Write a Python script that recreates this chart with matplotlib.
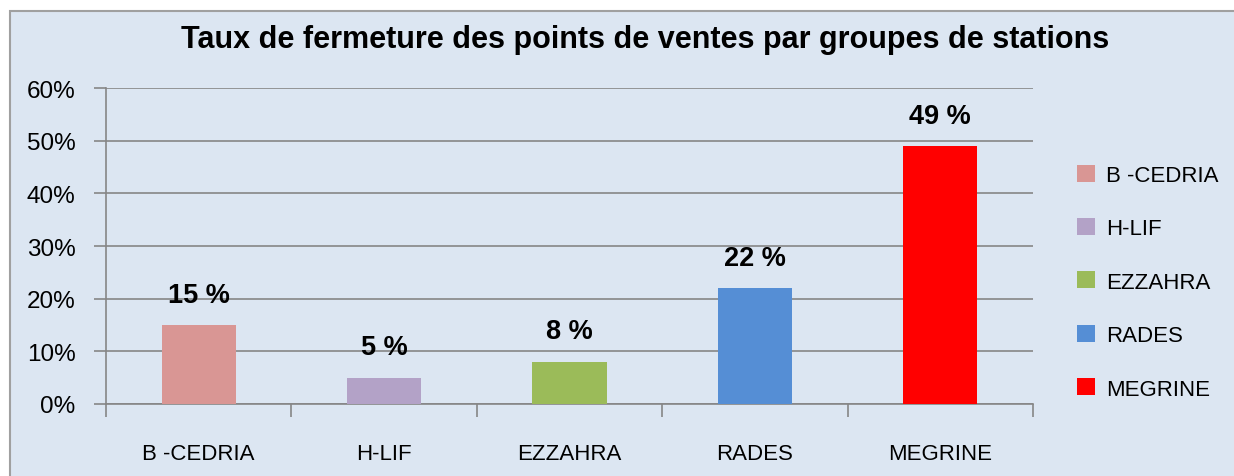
import matplotlib
matplotlib.use("Agg")
import matplotlib.pyplot as plt
from matplotlib.patches import Rectangle, Patch
from matplotlib.ticker import FuncFormatter, FixedLocator

categories = ["B -CEDRIA", "H-LIF", "EZZAHRA", "RADES", "MEGRINE"]
values = [15, 5, 8, 22, 49]
labels = ["15 %", "5 %", "8 %", "22 %", "49 %"]
colors = ["#D99694", "#B3A2C7", "#9BBB59", "#558ED5", "#FF0000"]
yticks = [0, 10, 20, 30, 40, 50, 60]

plt.rcParams['font.family'] = ['Liberation Sans Narrow', 'Liberation Sans', 'DejaVu Sans']

W, H = 1234, 477
fig = plt.figure(figsize=(W/100, H/100), dpi=100)
fig.patch.set_facecolor("white")
bg = "#DCE6F2"
fig.patches.append(Rectangle((10/W, -0.05), 1.2, (H-12)/H + 0.05, transform=fig.transFigure,
                             facecolor=bg, edgecolor="#A0A0A0", linewidth=1.5, zorder=-5))

ax = fig.add_axes([106/W, (H-405)/H, (1033-106)/W, (405-89)/H])
ax.set_zorder(2)
ax.set_facecolor("none")
x = list(range(len(categories)))
ax.bar(x, values, width=0.4, color=colors, zorder=3)
ax.set_xlim(-0.5, len(categories)-0.5)
ax.set_ylim(0, 60)
ax.yaxis.set_major_locator(FixedLocator(yticks))
ax.yaxis.set_major_formatter(FuncFormatter(lambda v, p: f"{int(v)}%"))
ax.grid(axis="y", color="#868686", linewidth=1.2, zorder=1)
for s in ["top", "right"]:
    ax.spines[s].set_visible(False)
for s in ["left", "bottom"]:
    ax.spines[s].set_color("#868686")
    ax.spines[s].set_linewidth(1.2)
ax.tick_params(axis="y", length=9, width=1.2, color="#868686", labelsize=17.5, pad=13)
ax.set_xticks([i + 0.5 for i in range(-1, len(categories))], minor=False)
ax.set_xticklabels([])
ax.tick_params(axis="x", which="major", length=9, width=1.2, color="#868686")
ax.set_xticks(x, minor=True)
ax.set_xticklabels(categories, minor=True)
ax.tick_params(axis="x", which="minor", length=0, labelsize=16, pad=28)

for xi, v, lab in zip(x, values, labels):
    ax.text(xi, v + 3.3, lab, ha="center", va="bottom", fontsize=19.5, fontweight="bold")

fig.text(645/W, 1 - 40/H, "Taux de fermeture des points de ventes par groupes de stations",
         ha="center", va="center", fontsize=22, fontweight="bold")

handles = [Patch(facecolor=c, edgecolor="none") for c in colors]
fig.legend(handles, categories, loc="center left", bbox_to_anchor=(1057/W, 1 - 283/H),
           frameon=False, fontsize=16, labelspacing=1.45, handlelength=0.8, handleheight=0.8,
           handletextpad=0.5)

fig.savefig("out.png", dpi=100, facecolor=fig.get_facecolor())
